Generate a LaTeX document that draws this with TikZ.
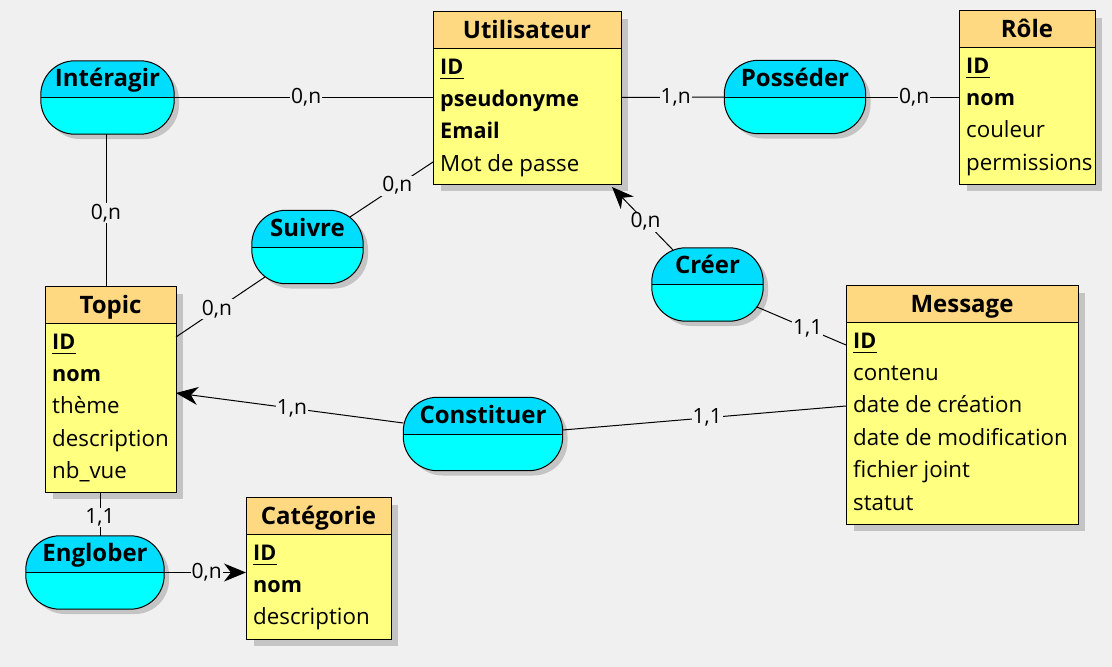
\documentclass[tikz,border=0pt]{standalone}
\usepackage{fontspec}
\setmainfont{Open Sans}
\usetikzlibrary{shadows,arrows.meta,calc}
\definecolor{bg}{HTML}{F0F0F0}
\definecolor{headfill}{HTML}{FFD982}
\definecolor{bodyfill}{HTML}{FFFF80}
\definecolor{cyantop}{HTML}{00DDFF}
\definecolor{cyanbot}{HTML}{00FFFF}
\definecolor{shadowgray}{HTML}{C4C4C4}
\newcommand\bAttr[1]{{\fontsize{21.6}{26}\selectfont\bfseries #1}}
\tikzset{
  ent/.style={rectangle, inner sep=0pt, fill=bodyfill, line width=1pt,
    drop shadow={shadow xshift=7pt, shadow yshift=-7pt, fill=shadowgray, opacity=1}},
  assoc/.style={rectangle, rounded corners=34pt, inner sep=0pt, fill=cyanbot, minimum height=73pt,
    drop shadow={shadow xshift=5pt, shadow yshift=-5pt, fill=shadowgray, opacity=1}},
  ttl/.style={inner sep=0pt, font=\fontsize{24}{28}\selectfont\bfseries},
  attr/.style={inner sep=0pt, font=\fontsize{22.3}{26}\selectfont},
  atext/.style={inner sep=0pt, font=\fontsize{24}{28}\selectfont\bfseries},
  lab/.style={fill=bg, inner sep=1pt, font=\fontsize{21}{24}\selectfont},
  conn/.style={line width=1pt},
  arr/.style={line width=1pt, -{Stealth[length=22pt, width=18pt, inset=7pt]}},
}
\newcommand\EntBox[6]{%
  \node[ent, minimum width={(#4-#2)*1pt}, minimum height={(#5-#3)*1pt}, anchor=north west] (#1) at (#2,#3) {};
  \fill[headfill] (#1.north west) rectangle ([yshift=-37pt]#1.north east);
  \draw[line width=1pt] ([yshift=-37pt]#1.north west) -- ([yshift=-37pt]#1.north east);
  \draw[line width=1pt] (#1.north west) rectangle (#1.south east);
  \node[ttl, anchor=base] (#1-t) at ([yshift=-27.5pt]#1.north) {#6};
}
\newcommand\Attrs[2]{%
  \foreach \t [count=\i] in {#2} {
    \node[attr, anchor=base west] (#1-a\i) at ([xshift=7pt, yshift={-63pt-(\i-1)*32.4pt}]#1.north west) {\t};
  }
  \draw[line width=1pt] ([yshift=-4pt]#1-a1.base west) -- ([yshift=-4pt]#1-a1.base east);
}
\newcommand\Assoc[5]{%
  \node[assoc, minimum width={#4*1pt}] (#1) at (#2,#3) {};
  \begin{scope}
    \clip[rounded corners=34pt] (#1.north west) rectangle (#1.south east);
    \fill[cyantop] (#1.north west) rectangle (#1.east);
  \end{scope}
  \draw[line width=1pt, rounded corners=34pt] (#1.north west) rectangle (#1.south east);
  \draw[line width=1pt] (#1.west) -- (#1.east);
  \node[atext, anchor=base] (#1-t) at ([yshift=-26pt]#1.north) {#5};
}
\begin{document}
\begin{tikzpicture}[x=1pt, y=-1pt]
\fill[bg] (0,0) rectangle (1112,667);
\useasboundingbox (0,0) rectangle (1112,667);

% entities
\EntBox{util}{433}{11}{620}{183}{Utilisateur}
\Attrs{util}{\bAttr{ID},\bAttr{pseudonyme},\bAttr{Email},Mot de passe}
\EntBox{role}{959}{10}{1094}{183}{Rôle}
\Attrs{role}{\bAttr{ID},\bAttr{nom},couleur,permissions}
\EntBox{topic}{45}{286}{175}{491}{Topic}
\Attrs{topic}{\bAttr{ID},\bAttr{nom},thème,description,nb\_vue}
\EntBox{msg}{846}{285}{1077}{523}{Message}
\Attrs{msg}{\bAttr{ID},contenu,date de création,date de modification,fichier joint,statut}
\EntBox{cat}{246}{497}{390}{638}{Catégorie}
\Attrs{cat}{\bAttr{ID},\bAttr{nom},description}

% associations
\Assoc{inter}{107.5}{97.5}{133}{Intéragir}
\Assoc{poss}{795}{97}{141}{Posséder}
\Assoc{suivre}{307.5}{247}{111}{Suivre}
\Assoc{creer}{707.5}{284.5}{111}{Créer}
\Assoc{cons}{483}{434}{159}{Constituer}
\Assoc{englo}{95}{572.5}{138}{Englober}

% connectors
\draw[conn] (inter.east) -- (inter.east -| util.west) node[lab, pos=0.51] (l1) {0,n};
\draw[conn] ([xshift=-1.5pt]inter.south) -- ([xshift=-1.5pt]inter.south |- topic.north) node[lab, pos=0.52] (l2) {0,n};
\draw[conn] (util.east) -- (poss.west) node[lab, pos=0.53] (l3) {1,n};
\draw[conn] (poss.east) -- (poss.east -| role.west) node[lab, pos=0.52] (l4) {0,n};
\draw[conn] ([xshift=42.5pt, yshift=30pt]suivre.center) -- ([yshift=22pt]util.south west) node[lab, pos=0.57] (l5) {0,n};
\draw[conn] ([yshift=-51pt]topic.north east) -- ([xshift=-42.5pt, yshift=-30pt]suivre.center) node[lab, pos=0.46] (l6) {0,n};
\draw[arr] ([xshift=-34.5pt, yshift=34.5pt]creer.center) -- ([xshift=-9pt, yshift=-3pt]util.south east) node[lab, pos=0.45] (l7) {0,n};
\draw[conn] ([xshift=49.5pt, yshift=-22.5pt]creer.center) -- ([yshift=-60pt]msg.north west) node[lab, pos=0.57] (l8) {1,1};
\draw[arr] ([yshift=11pt]cons.west) -- ([yshift=-107pt]topic.north east) node[lab, pos=0.49] (l9) {1,n};
\draw[conn] ([yshift=4pt]cons.east) -- ([yshift=-121pt]msg.north west) node[lab, pos=0.51] (l10) {1,1};
\draw[conn] ([xshift=55pt]topic.south west) -- ([xshift=55pt]topic.south west |- englo.north) node[lab, pos=0.58] (l11) {1,1};
\draw[arr] (englo.east) -- (englo.east -| cat.west) node[lab, pos=0.52] (l12) {0,n};
\end{tikzpicture}
\end{document}
